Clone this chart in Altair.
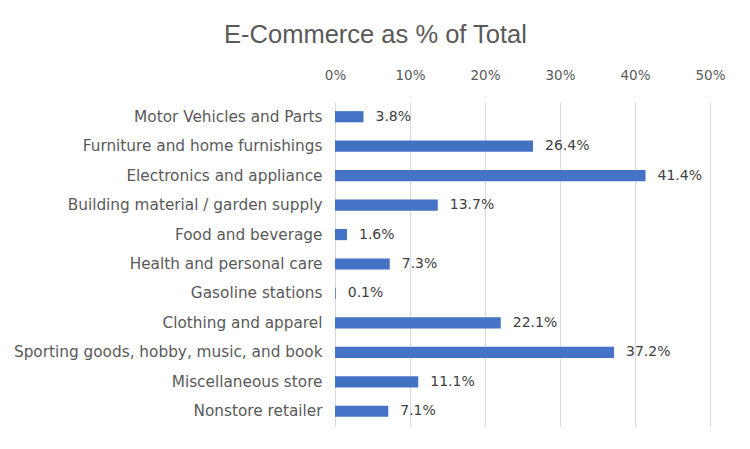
import altair as alt
import pandas as pd

categories = [
    "Motor Vehicles and Parts",
    "Furniture and home furnishings",
    "Electronics and appliance",
    "Building material / garden supply",
    "Food and beverage",
    "Health and personal care",
    "Gasoline stations",
    "Clothing and apparel",
    "Sporting goods, hobby, music, and book",
    "Miscellaneous store",
    "Nonstore retailer",
]
values = [3.8, 26.4, 41.4, 13.7, 1.6, 7.3, 0.1, 22.1, 37.2, 11.1, 7.1]

df = pd.DataFrame({"cat": categories, "val": [v / 100 for v in values]})
df["label"] = [f"{v:.1f}%" for v in values]

FONT = "DejaVu Sans, sans-serif"
TFONT = "Liberation Sans, sans-serif"

y = alt.Y("cat:N", sort=categories, title=None,
          scale=alt.Scale(paddingInner=0.62, paddingOuter=0.31),
          axis=alt.Axis(domain=False, ticks=False, labelPadding=13, labelFontSize=15.3,
                        labelColor="#595959", labelFont=FONT, labelLimit=400))
x = alt.X("val:Q", title=None, scale=alt.Scale(domain=[0, 0.5], nice=False),
          axis=alt.Axis(orient="top", format=".0%", values=[0, 0.1, 0.2, 0.3, 0.4, 0.5],
                        domain=False, ticks=False, labelPadding=20, labelFontSize=13.5,
                        labelColor="#595959", labelFont=FONT, gridColor="#d9d9d9",
                        labelFlush=False))

bars = alt.Chart(df).mark_bar(color="#4472C4").encode(x=x, y=y)
text = alt.Chart(df).mark_text(align="left", dx=12, fontSize=14, color="#404040",
                               font=FONT).encode(x="val:Q", y=alt.Y("cat:N", sort=categories),
                                                 text="label:N")

chart = (bars + text).properties(
    width=375, height=324,
    title=alt.TitleParams("E-Commerce as % of Total", fontSize=25.5, font=TFONT,
                          fontWeight="normal", color="#595959", anchor="middle",
                          offset=20, dx=-147),
    autosize=alt.AutoSizeParams(type="none"),
    padding={"left": 335, "top": 102, "right": 40, "bottom": 23},
    background="white",
).configure_view(stroke=None)

chart.save("out.html", embed_options={"renderer": "svg", "actions": False})
